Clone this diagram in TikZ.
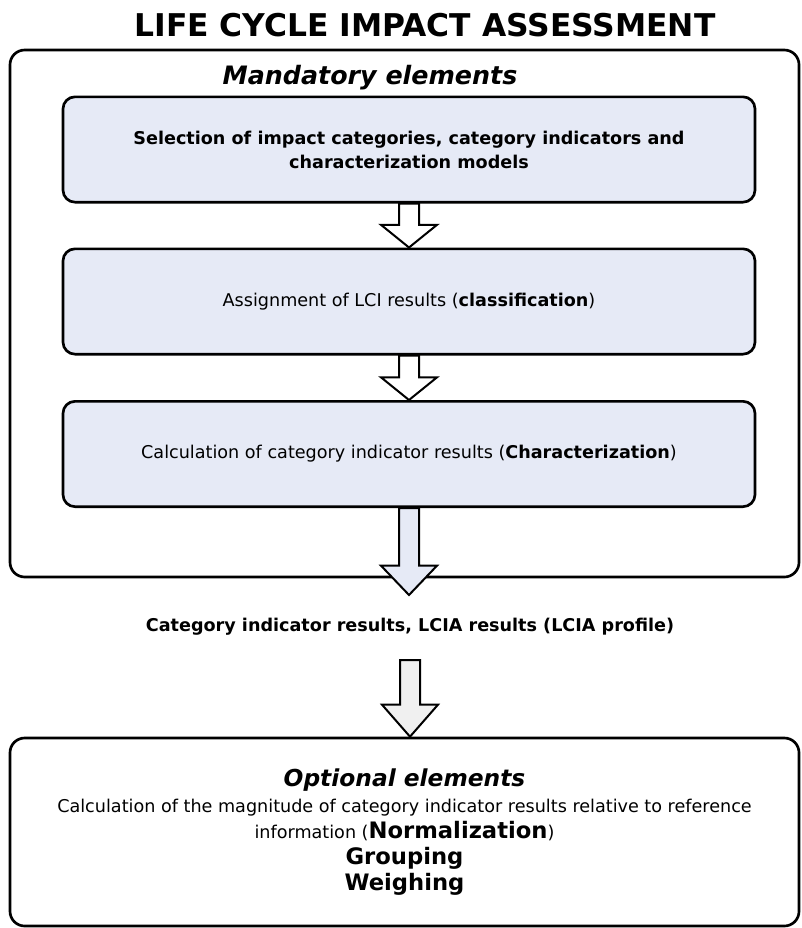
\documentclass[tikz,border=0pt]{standalone}
\usepackage{fontspec}
\setmainfont{DejaVu Sans}
\usetikzlibrary{calc,positioning}
\definecolor{boxblue}{RGB}{230,234,246}
\definecolor{arrowgray}{RGB}{240,240,240}
\tikzset{
  panel/.style={draw, line width=2pt, rounded corners=11pt, minimum width=591.75pt},
  stepbox/.style={draw, line width=2pt, rounded corners=9pt, fill=boxblue,
    minimum width=519pt, minimum height=79pt, align=center,
    font=\fontsize{13.2}{18}\selectfont},
  blockarr/.style={draw, line width=1.5pt, line join=miter},
}
\newcommand{\blockarrow}[4][17pt]{%
  \draw[blockarr, fill=#4] ($(#2)+(-7.5pt,0)$) -- ($(#3)+(-7.5pt,#1)$)
    -- ($(#3)+(-21pt,#1)$) -- (#3) -- ($(#3)+(21pt,#1)$)
    -- ($(#3)+(7.5pt,#1)$) -- ($(#2)+(7.5pt,0)$) -- cycle;}

\begin{document}
\begin{tikzpicture}[x=0.75pt,y=-0.75pt]
\useasboundingbox (0,0) rectangle (801,928);
\node[font=\bfseries\fontsize{23.5}{28}\selectfont] (title) at (425,25) {LIFE CYCLE IMPACT ASSESSMENT};
\node[panel, minimum height=395.25pt] (mand) at (404.5,313.5) {};
\node[font=\bfseries\itshape\fontsize{19}{22}\selectfont] (mandlabel) at (370,78) {Mandatory elements};

\node[stepbox, font=\bfseries\fontsize{13.2}{18}\selectfont] (select) at (409,149.5)
  {Selection of impact categories, category indicators and\\characterization models};
\node[stepbox] (assign) at (409,301.5) {Assignment of LCI results (\textbf{classification})};
\node[stepbox] (calc) at (409,454) {Calculation of category indicator results (\textbf{Characterization})};

\coordinate (tip3) at (409,595);
\node[font=\bfseries\fontsize{13.2}{16}\selectfont] (lcia) at (410,627)
  {Category indicator results, LCIA results (LCIA profile)};
\coordinate (top4) at (410,660);

\node[panel, minimum height=141pt, align=center, font=\fontsize{13.2}{19.5}\selectfont] (opt) at (404.5,832)
  {{\bfseries\itshape\fontsize{17.5}{19.5}\selectfont Optional elements}\\
   Calculation of the magnitude of category indicator results relative to reference\\
   information (\textbf{\fontsize{17}{19.5}\selectfont Normalization})\\
   {\bfseries\fontsize{17}{19.5}\selectfont Grouping}\\
   {\bfseries\fontsize{17}{19.5}\selectfont Weighing}};
\coordinate (tip4) at (opt.north -| top4);

\blockarrow{select.south}{assign.north}{white}
\blockarrow{assign.south}{calc.north}{white}
\blockarrow[22pt]{calc.south}{tip3}{boxblue}
\blockarrow[24pt]{top4}{tip4}{arrowgray}
\end{tikzpicture}
\end{document}
